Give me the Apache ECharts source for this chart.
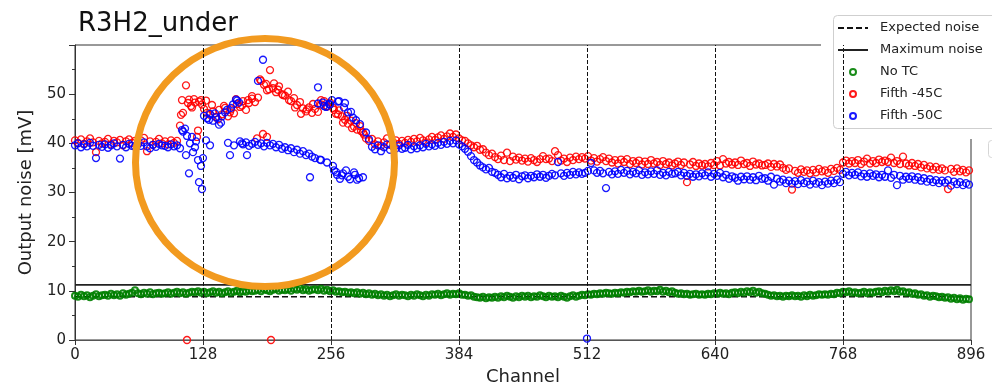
<!DOCTYPE html>
<html>
<head>
<meta charset="utf-8">
<script src="https://cdn.jsdelivr.net/npm/echarts@6/dist/echarts.min.js"></script>
<style>
  html, body { margin: 0; padding: 0; background: #fff; }
  #chart { width: 992px; height: 392px; }
</style>
</head>
<body>
<div id="chart"></div>
<script>
// Channel spacing of the main noise arrays (one value every CHANNEL_STEP channels, starting at 0)
const CHANNEL_STEP = 3;
const channelTicks = [0, 128, 256, 384, 512, 640, 768, 896];
const boundaryChannels = [128, 256, 384, 512, 640, 768];
const expectedNoise = 8.8;
const maximumNoise = 11.2;

// No TC  [mV]
const noTC = [
  9.0, 8.8, 9.2, 8.9, 9.1, 8.7, 9.0, 9.3, 8.9, 9.1,
  9.2, 9.0, 9.4, 9.1, 9.3, 9.0, 9.5, 9.2, 9.4, 9.6,
  10.1, 9.5, 9.3, 9.6, 9.4, 9.7, 9.3, 9.5, 9.6, 9.4,
  9.5, 9.7, 9.4, 9.6, 9.8, 9.5, 9.7, 9.4, 9.6, 9.8,
  9.7, 9.9, 9.6, 9.8, 9.5, 9.7, 9.9, 9.6, 9.8, 9.5,
  9.7, 9.9, 9.6, 9.8, 10.0, 9.7, 9.9, 9.8, 10.1, 9.9,
  10.0, 10.2, 9.9, 10.3, 10.1, 9.9, 10.2, 10.4, 10.0, 10.2,
  10.1, 10.3, 10.0, 10.4, 10.2, 10.5, 10.1, 10.3, 10.0, 10.2,
  10.3, 10.1, 10.4, 10.0, 10.2, 9.9, 10.1, 9.8, 9.9, 9.7,
  9.8, 9.6, 9.7, 9.5, 9.7, 9.4, 9.6, 9.3, 9.5, 9.2,
  9.4, 9.1, 9.3, 9.0, 9.2, 8.9, 9.1, 9.3, 9.0, 9.2,
  9.1, 8.9, 9.2, 9.0, 9.3, 9.1, 8.9, 9.2, 9.0, 9.3,
  9.2, 9.4, 9.1, 9.3, 9.5, 9.2, 9.4, 9.3, 9.5, 9.2,
  9.2, 9.0, 9.1, 8.8, 8.7, 8.6, 8.8, 8.5, 8.7, 8.6,
  8.8, 8.6, 8.9, 8.7, 9.0, 8.8, 8.6, 8.9, 8.7, 9.0,
  8.8, 9.0, 8.7, 8.9, 8.8, 9.1, 8.9, 8.7, 9.0, 8.8,
  8.9, 8.7, 9.0, 8.8, 8.6, 8.9, 9.1, 8.8, 9.0, 9.2,
  9.1, 9.3, 9.2, 9.4, 9.3, 9.5, 9.4, 9.6, 9.5, 9.4,
  9.6, 9.5, 9.7, 9.6, 9.8, 9.7, 9.9, 9.8, 10.0, 9.8,
  9.9, 10.1, 9.8, 10.0, 9.9, 10.2, 9.8, 10.0, 9.7, 9.9,
  9.6, 9.4, 9.5, 9.3, 9.4, 9.2, 9.3, 9.4, 9.2, 9.3,
  9.2, 9.4, 9.3, 9.5, 9.4, 9.6, 9.4, 9.5, 9.3, 9.6,
  9.7, 9.5, 9.8, 9.6, 9.9, 9.7, 10.0, 9.6, 9.8, 9.5,
  9.4, 9.2, 9.0, 9.1, 8.9, 9.0, 8.8, 9.0, 8.9, 9.1,
  8.9, 9.0, 8.8, 9.1, 8.9, 9.2, 9.0, 9.1, 9.3, 9.2,
  9.3, 9.2, 9.4, 9.3, 9.6, 9.5, 9.8, 9.7, 9.9, 9.6,
  9.7, 9.5, 9.6, 9.8, 9.5, 9.7, 9.6, 9.8, 9.9, 9.7,
  10.0, 9.8, 10.1, 9.9, 10.2, 9.8, 9.9, 9.6, 9.7, 9.4,
  9.5, 9.2, 9.3, 9.0, 9.1, 8.8, 9.0, 8.9, 8.7, 8.8,
  8.6, 8.7, 8.4, 8.6, 8.3, 8.5, 8.2, 8.4, 8.3
];

// Fifth -45C  [mV]
const fifth45 = [
  40.6, 40.1, 40.8, 39.9, 40.4, 41.0, 40.2, 38.2, 40.5, 40.0,
  40.3, 40.9, 39.8, 40.5, 40.2, 40.7, 39.6, 40.4, 40.8, 40.1,
  40.5, 39.9, 40.6, 41.1, 38.4, 40.4, 39.7, 40.3, 40.9, 40.0,
  40.4, 39.8, 40.6, 40.1, 40.5, 43.6, 46.2, 51.8, 48.9, 47.3,
  48.3, 42.6, 48.8, 47.0, 46.2, 45.8, 46.5, 45.4, 46.8, 45.9,
  47.2, 45.5, 46.9, 46.1, 48.0, 47.4, 48.6, 46.8, 48.2, 49.1,
  48.4, 49.3, 52.7, 51.9, 50.8, 54.9, 51.2, 50.4, 51.6, 50.0,
  49.7, 50.5, 48.6, 49.2, 47.8, 48.4, 47.1, 46.5, 47.3, 46.2,
  47.0, 46.4, 47.9, 48.6, 47.5, 48.3, 47.2, 46.0, 46.7, 45.5,
  44.8, 44.0, 44.6, 43.4, 42.8, 43.5, 42.2, 41.0, 40.5, 40.9,
  39.8, 40.4, 39.5, 40.2, 41.0, 39.7, 40.3, 40.6, 39.9, 40.5,
  40.1, 40.7, 40.3, 40.9, 40.4, 41.1, 40.6, 40.2, 40.8, 41.3,
  40.7, 41.2, 41.6, 40.9, 41.4, 42.0, 41.3, 41.8, 41.0, 40.6,
  40.5, 40.0, 39.6, 39.2, 39.5, 38.7, 38.8, 38.1, 37.6, 37.9,
  37.2, 36.8, 37.5, 36.6, 38.1, 36.4, 37.3, 36.7, 37.1, 36.5,
  36.9, 36.3, 37.0, 36.6, 36.2, 36.8, 37.4, 36.8, 36.9, 36.4,
  38.4, 37.6, 36.5, 36.9, 36.2, 37.1, 36.6, 37.3, 36.8, 37.2,
  36.9, 37.4, 36.5, 37.0, 36.3, 36.8, 37.2, 36.4, 36.9, 36.1,
  36.6, 35.9, 36.7, 36.2, 36.8, 35.8, 36.4, 36.0, 36.5, 35.7,
  36.3, 35.8, 36.6, 35.9, 36.2, 35.6, 36.4, 35.8, 36.1, 35.5,
  35.9, 36.3, 35.6, 36.1, 32.1, 35.7, 36.2, 35.4, 35.9, 35.5,
  35.8, 35.3, 36.0, 35.6, 36.4, 35.5, 36.8, 35.9, 36.2, 35.7,
  36.1, 35.6, 36.5, 35.8, 36.0, 35.4, 36.3, 35.7, 35.9, 35.5,
  35.6, 35.9, 35.2, 35.8, 35.3, 35.7, 35.0, 34.6, 34.9, 30.6,
  34.4, 34.0, 34.7, 34.2, 34.5, 33.9, 34.6, 34.1, 34.8, 34.3,
  34.5, 34.0, 34.8, 34.4, 35.0, 34.6, 36.1, 36.5, 35.9, 36.4,
  36.0, 36.6, 35.8, 36.3, 36.9, 35.9, 36.4, 36.0, 36.7, 36.2,
  36.5, 36.2, 37.1, 36.0, 36.4, 35.8, 37.3, 35.9, 35.5, 36.0,
  35.4, 35.8, 35.1, 35.6, 34.9, 35.3, 34.7, 35.2, 34.6, 34.9,
  34.5, 30.7, 34.8, 34.2, 34.9, 34.3, 34.6, 34.1, 34.5
];

// Fifth -50C  [mV]
const fifth50 = [
  39.6, 40.0, 39.2, 39.8, 39.4, 40.1, 39.5, 37.0, 39.7, 39.3,
  39.8, 39.1, 39.6, 40.0, 39.4, 36.9, 39.7, 39.2, 39.9, 39.5,
  39.3, 39.8, 39.5, 40.2, 39.4, 39.0, 39.7, 39.3, 39.9, 39.6,
  39.5, 39.2, 39.8, 39.4, 39.6, 39.0, 42.4, 37.6, 33.9, 41.3,
  39.2, 36.6, 35.4, 45.6, 45.1, 46.0, 44.6, 45.3, 43.8, 45.5,
  46.3, 40.1, 47.2, 39.6, 48.7, 40.4, 39.8, 40.2, 39.5, 39.9,
  40.3, 39.7, 40.0, 39.4, 40.1, 39.6, 39.9, 39.2, 39.7, 38.9,
  39.2, 38.6, 39.0, 38.2, 38.7, 37.9, 38.4, 37.6, 37.9, 37.3,
  37.0, 48.1, 36.6, 47.6, 36.1, 47.9, 35.4, 34.2, 48.6, 33.5,
  48.2, 33.2, 46.4, 34.1, 32.6, 43.9, 33.1, 42.2, 40.8, 39.3,
  38.8, 39.6, 38.4, 39.2, 39.8, 38.7, 39.4, 39.0, 39.6, 38.9,
  39.1, 39.7, 38.8, 39.4, 39.0, 39.6, 39.2, 39.9, 39.4, 39.8,
  39.5, 40.1, 39.7, 40.3, 39.9, 40.5, 40.0, 40.6, 39.8, 39.4,
  38.9, 38.3, 37.4, 36.6, 36.1, 35.5, 35.1, 34.7, 35.0, 34.2,
  34.0, 33.6, 33.1, 33.8, 32.9, 33.4, 33.0, 33.6, 32.7, 33.3,
  33.5, 32.9, 33.4, 33.1, 33.7, 33.2, 33.6, 33.0, 33.4, 33.8,
  33.5, 36.2, 33.9, 33.4, 34.0, 33.6, 34.2, 33.7, 34.1, 33.8,
  34.0, 34.4, 36.0, 34.5, 34.0, 34.4, 33.9, 30.9, 34.2, 33.7,
  34.3, 33.8, 34.6, 34.0, 34.4, 33.7, 34.2, 33.9, 34.5, 33.6,
  34.1, 33.7, 34.3, 33.8, 34.5, 33.6, 34.0, 33.5, 34.2, 33.8,
  33.9, 34.2, 33.5, 34.0, 33.4, 33.8, 33.2, 33.7, 33.3, 33.9,
  33.5, 34.1, 33.2, 33.8, 33.4, 34.0, 33.1, 33.6, 32.8, 33.3,
  33.0, 32.4, 33.2, 32.7, 33.3, 32.6, 33.1, 32.5, 33.4, 32.8,
  32.9, 32.4, 33.2, 31.6, 32.8, 32.2, 32.6, 31.9, 32.4, 31.8,
  32.3, 31.7, 32.5, 31.9, 32.2, 31.6, 32.4, 31.8, 32.1, 31.5,
  32.2, 31.8, 32.4, 31.9, 32.6, 32.1, 33.8, 34.2, 33.5, 34.0,
  33.6, 34.1, 33.3, 33.8, 33.2, 33.9, 33.4, 33.7, 33.1, 33.6,
  33.2, 34.5, 33.0, 33.6, 31.5, 33.4, 32.6, 33.2, 32.8, 33.3,
  32.6, 33.1, 32.4, 32.9, 32.2, 32.7, 32.1, 32.5, 31.9, 32.4,
  32.0, 32.5, 31.4, 32.2, 31.7, 32.1, 31.5, 31.9, 31.6
];

// Remaining channels of the -45C run, [channel, mV]
const fifth45Extra = [
  [106, 45.8], [107, 48.8], [113, 48.2], [116, 47.6], [119, 49.0], [122, 41.3],
  [124, 48.5], [127, 47.9], [131, 48.7], [137, 47.8], [143, 44.9], [149, 47.6],
  [155, 46.3], [161, 49.0], [167, 47.7], [173, 48.8], [177, 49.6], [182, 41.0],
  [185, 53.0], [188, 41.9], [191, 52.1], [192, 41.3], [194, 51.0], [199, 52.2],
  [203, 50.9], [208, 49.8], [214, 48.8], [220, 47.3], [226, 46.0], [232, 46.9],
  [238, 48.0], [246, 48.8], [252, 47.6], [259, 46.8], [263, 45.9], [268, 44.2],
  [272, 45.6], [277, 43.1], [281, 44.1], [286, 42.5], [289, 41.8],
  [112, 0], [196, 0]
];

// Remaining channels of the -50C run, [channel, mV]
const fifth50Extra = [
  [107, 42.7], [110, 43.0], [112, 41.5], [115, 40.0], [118, 38.2], [121, 40.4],
  [124, 32.1], [127, 30.7], [128, 37.0], [131, 40.6], [135, 39.6], [134, 44.8],
  [140, 46.1], [146, 44.2], [152, 46.8], [155, 37.6], [158, 47.9], [161, 48.9],
  [164, 48.3], [167, 40.0], [172, 37.6], [183, 52.7], [188, 57.0], [235, 33.1],
  [243, 51.4], [245, 36.7], [248, 48.3], [251, 47.4], [254, 48.0], [257, 48.8],
  [259, 34.5], [262, 33.6], [263, 48.5], [265, 32.8], [268, 33.9], [269, 47.3],
  [271, 34.5], [273, 46.3], [275, 32.7], [278, 45.2], [280, 33.6], [281, 44.7],
  [284, 32.9], [512, 0.3]
];

const FONT = 'DejaVu Sans';
const TEXT = '#222';

function toPoints(values, extra) {
  const pts = values.map((v, i) => [i * CHANNEL_STEP, v]);
  return pts.concat(extra || []);
}

function scatterSeries(name, color, values, extra, width, size) {
  return {
    name: name,
    type: 'scatter',
    symbol: 'circle',
    symbolSize: size,
    itemStyle: { color: 'rgba(0,0,0,0)', borderColor: color, borderWidth: width, opacity: 0.9 },
    emphasis: { disabled: true },
    data: toPoints(values, extra),
    z: 2
  };
}

// legend entries for the reference lines show only the line, no marker
const hiddenMarker = { color: 'rgba(0,0,0,0)', borderWidth: 0, opacity: 0 };

const chart = echarts.init(document.getElementById('chart'), null, { renderer: 'canvas' });

chart.setOption({
  animation: false,
  backgroundColor: '#fff',
  title: {
    text: 'R3H2_under',
    left: 73,
    top: 6,
    textStyle: { fontFamily: FONT, fontSize: 26, fontWeight: 'normal', color: '#111' }
  },
  grid: {
    left: 75, right: 21, top: 45, bottom: 52,
    show: true, borderColor: '#333', borderWidth: 1, backgroundColor: 'transparent'
  },
  legend: {
    orient: 'vertical',
    left: 837,
    top: 21,
    padding: 0,
    itemWidth: 30,
    itemHeight: 6,
    itemGap: 8,
    selectedMode: false,
    textStyle: { fontFamily: FONT, fontSize: 13, color: TEXT, lineHeight: 14, padding: [0, 0, 0, 7] },
    data: [
      { name: 'Expected noise', itemStyle: hiddenMarker },
      { name: 'Maximum noise', itemStyle: hiddenMarker },
      'No TC', 'Fifth -45C', 'Fifth -50C'
    ],
    z: 6
  },
  xAxis: {
    type: 'value',
    min: channelTicks[0],
    max: channelTicks[channelTicks.length - 1],
    interval: channelTicks[1] - channelTicks[0],
    name: 'Channel',
    nameLocation: 'middle',
    nameGap: 27,
    nameTextStyle: { fontFamily: FONT, fontSize: 18, color: TEXT },
    axisLine: { show: true, lineStyle: { color: '#555', width: 1.2 } },
    axisTick: { show: true, length: 5, lineStyle: { color: '#333' } },
    axisLabel: { fontFamily: FONT, fontSize: 15, color: TEXT, margin: 8 },
    splitLine: { show: false }
  },
  yAxis: {
    type: 'value',
    min: 0,
    max: 60,
    interval: 10,
    name: 'Output noise [mV]',
    nameLocation: 'middle',
    nameGap: 40,
    nameTextStyle: { fontFamily: FONT, fontSize: 18, color: TEXT },
    axisLine: { show: true, lineStyle: { color: '#333', width: 1 } },
    axisTick: { show: true, length: 6, lineStyle: { color: '#333' } },
    minorTick: { show: true, splitNumber: 2, length: 3, lineStyle: { color: '#333' } },
    axisLabel: { fontFamily: FONT, fontSize: 15, color: TEXT, margin: 9, showMaxLabel: false },
    splitLine: { show: false }
  },
  series: [
    {
      name: 'Expected noise',
      type: 'line',
      symbol: 'none',
      lineStyle: { color: '#111', width: 1.6, type: [6, 3] },
      data: [[channelTicks[0], expectedNoise], [channelTicks[channelTicks.length - 1], expectedNoise]],
      z: 1
    },
    {
      name: 'Maximum noise',
      type: 'line',
      symbol: 'none',
      lineStyle: { color: '#222', width: 1.8 },
      data: [[channelTicks[0], maximumNoise], [channelTicks[channelTicks.length - 1], maximumNoise]],
      z: 1
    },
    {
      type: 'line',
      data: [],
      markLine: {
        silent: true,
        symbol: ['none', 'none'],
        label: { show: false },
        lineStyle: { color: '#111', width: 1, type: [4, 2] },
        data: boundaryChannels.map(c => ({ xAxis: c }))
      },
      z: 1
    },
    scatterSeries('No TC', '#008000', noTC, [], 2, 6),
    scatterSeries('Fifth -45C', '#ff0000', fifth45, fifth45Extra, 1.3, 7),
    scatterSeries('Fifth -50C', '#0000ff', fifth50, fifth50Extra, 1.3, 7)
  ],
  graphic: [
    // white patch behind the legend box (covers the upper right corner of the frame)
    { type: 'rect', shape: { x: 821, y: 0, width: 171, height: 139 }, style: { fill: '#fff' }, z: 5 },
    { type: 'rect', shape: { x: 833.5, y: 15.5, width: 200, height: 113, r: 4 },
      style: { fill: '#fff', stroke: '#cfcfcf', lineWidth: 1 }, z: 5 },
    { type: 'rect', shape: { x: 988.5, y: 140.5, width: 20, height: 17, r: 3 },
      style: { fill: '#fff', stroke: '#d6d6d6', lineWidth: 1 }, z: 5 },
    // highlighted region around the first two boundaries
    { type: 'ellipse', shape: { cx: 265, cy: 162.5, rx: 129.5, ry: 124 },
      style: { fill: 'none', stroke: '#f29a1f', lineWidth: 7 }, z: 5 }
  ]
});
</script>
</body>
</html>
